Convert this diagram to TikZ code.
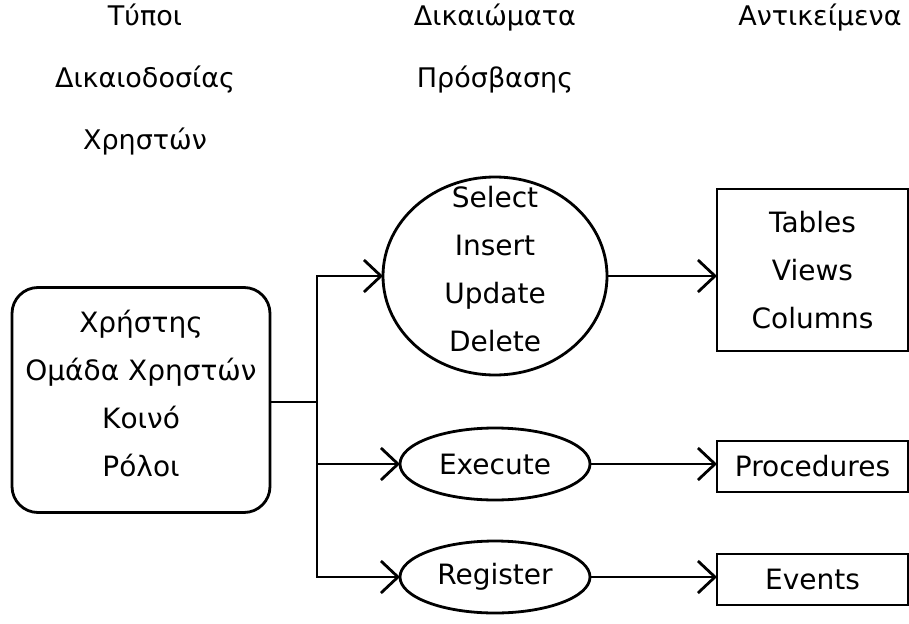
\documentclass[tikz,border=0pt]{standalone}
\usepackage{fontspec}
\setmainfont{DejaVu Sans}
\usetikzlibrary{shapes.geometric,arrows.meta}
\begin{document}
\begin{tikzpicture}[x=1pt,y=-1pt,
  every node/.style={inner sep=0pt,outer sep=0pt},
  txt/.style={font=\fontsize{28}{48}\selectfont,align=center},
  hdr/.style={font=\fontsize{27}{62}\selectfont,align=center},
  ell/.style={draw,ellipse,line width=2.8pt},
  box/.style={draw,rectangle,line width=2.8pt,txt},
  ln/.style={line width=2.8pt},
  arr/.style={line width=2.8pt,-{Straight Barb[length=17pt,width=32pt,line width=2.8pt]}}]
\useasboundingbox (0,0) rectangle (909,623);
\node[hdr] (h1) at (145,80) {Τύποι\\Δικαιοδοσίας\\Χρηστών};
\node[hdr] (h2) at (495,49) {Δικαιώματα\\Πρόσβασης};
\node[hdr] (h3) at (820,18) {Αντικείμενα};
\node[draw,rectangle,rounded corners=26pt,line width=2.8pt,minimum width=258pt,minimum height=225pt] (L) at (141,400) {};
\node[txt] (Lt) at ([yshift=7pt]L.center) {Χρήστης\\Ομάδα Χρηστών\\Κοινό\\Ρόλοι};
\node[ell,minimum width=224pt,minimum height=198pt] (S) at (495,276) {};
\node[txt] (St) at ([yshift=7pt]S.center) {Select\\Insert\\Update\\Delete};
\node[ell,minimum width=190pt,minimum height=72pt] (E) at (495,464) {};
\node[txt] (Et) at (E.center) {Execute};
\node[ell,minimum width=190pt,minimum height=72pt] (R) at (495,577) {};
\node[txt] (Rt) at (R.center) {Register};
\node[box,minimum width=191pt,minimum height=162pt] (T) at (812.5,270) {Tables\\Views\\Columns};
\node[box,minimum width=191pt,minimum height=51pt] (P) at (812.5,466.5) {Procedures};
\node[box,minimum width=191pt,minimum height=51pt] (V) at (812.5,579.5) {Events};
\coordinate (J) at (317,402);
\draw[ln] (L.east |- J) -- (J);
\draw[arr] (J) |- (S);
\draw[arr] (J) |- (E);
\draw[arr] (J) |- (R);
\draw[arr] (S.east) -- (S.east -| T.west);
\draw[arr] (E.east) -- (E.east -| P.west);
\draw[arr] (R.east) -- (R.east -| V.west);
\end{tikzpicture}
\end{document}
